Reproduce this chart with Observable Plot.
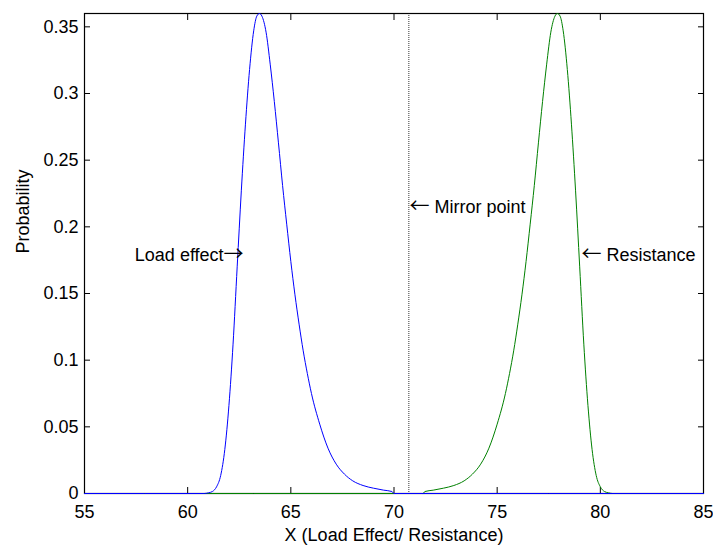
<!DOCTYPE html>
<html><head><meta charset="utf-8">
<script src="https://cdn.jsdelivr.net/npm/d3@7"></script>
<script src="https://cdn.jsdelivr.net/npm/@observablehq/plot@0.6"></script>
<style>body{margin:0;background:#fff;} #chart svg{display:block}</style>
</head><body><div id="chart"></div>
<script>
// Load effect (blue) curve
const loadX = [55, 60.8, 61.0, 61.2, 61.4, 61.6, 61.8, 62.0, 62.2, 62.4, 62.6, 62.8, 63.0, 63.2, 63.35, 63.48, 63.6, 63.8, 64.0, 64.2, 64.4, 64.6, 64.8, 65.0, 65.2, 65.4, 65.6, 65.8, 66.0, 66.4, 66.8, 67.2, 67.6, 68.0, 68.5, 69.0, 69.5, 69.9, 70.0, 85];
const loadY = [0, 0, 0.0005, 0.0015, 0.005, 0.0135, 0.033, 0.066, 0.112, 0.17, 0.227, 0.277, 0.318, 0.347, 0.358, 0.36, 0.358, 0.346, 0.322, 0.294, 0.263, 0.231, 0.202, 0.174, 0.149, 0.127, 0.107, 0.09, 0.075, 0.052, 0.034, 0.022, 0.0145, 0.0095, 0.006, 0.004, 0.0025, 0.0015, 0, 0];
// Resistance (green) curve
const resX = [55, 71.4, 71.5, 71.9, 72.4, 72.9, 73.4, 73.8, 74.2, 74.6, 75.0, 75.4, 75.6, 75.8, 76.0, 76.2, 76.4, 76.6, 76.8, 77.0, 77.2, 77.4, 77.6, 77.8, 77.92, 78.05, 78.2, 78.4, 78.6, 78.8, 79.0, 79.2, 79.4, 79.6, 79.8, 80.0, 80.2, 80.4, 80.6, 85];
const resY = [0, 0, 0.0015, 0.0025, 0.004, 0.006, 0.0095, 0.0145, 0.022, 0.034, 0.052, 0.075, 0.09, 0.107, 0.127, 0.149, 0.174, 0.202, 0.231, 0.263, 0.294, 0.322, 0.346, 0.358, 0.36, 0.358, 0.347, 0.318, 0.277, 0.227, 0.17, 0.112, 0.066, 0.033, 0.0135, 0.005, 0.0015, 0.0005, 0, 0];
const mirrorX = [70.72];
const xTicks = [55, 60, 65, 70, 75, 80, 85];
const yTicks = [0, 0.05, 0.1, 0.15, 0.2, 0.25, 0.3, 0.35];
const annText = ["Load effect", "Mirror point", "Resistance"];
const annArrow = ["\u2192", "\u2190", "\u2190"];
const annX = [62.71, 70.75, 79.09];
const annY = [0.179, 0.215, 0.179];
const annSide = ["end", "start", "start"];

const load = loadX.map((x, i) => ({x, y: loadY[i]}));
const res = resX.map((x, i) => ({x, y: resY[i]}));
const ann = annText.map((t, i) => ({t, a: annArrow[i], x: annX[i], y: annY[i], side: annSide[i]}));
const isEnd = d => d.side === "end";
const isStart = d => d.side === "start";

const chart = Plot.plot({
  width: 713, height: 545,
  marginLeft: 84, marginRight: 10, marginTop: 13, marginBottom: 52,
  style: {fontFamily: "'Liberation Sans', Arial, sans-serif", fontSize: "18px", background: "#fff", color: "#000"},
  x: {domain: [55, 85]},
  y: {domain: [0, 0.36]},
  marks: [
    Plot.frame({stroke: "#000", strokeWidth: 1.2}),
    Plot.axisX(xTicks, {anchor: "bottom", tickSize: -6, text: null, label: null}),
    Plot.axisX(xTicks, {anchor: "top", tickSize: -6, text: null, label: null}),
    Plot.axisY(yTicks, {anchor: "left", tickSize: -6, text: null, label: null}),
    Plot.axisY(yTicks, {anchor: "right", tickSize: -6, text: null, label: null}),
    Plot.axisX(xTicks, {anchor: "bottom", tickSize: 0, tickPadding: 12, label: null}),
    Plot.axisY(yTicks, {anchor: "left", tickSize: 0, tickPadding: 6, label: null, tickFormat: d3.format("~g")}),
    Plot.ruleX(mirrorX, {stroke: "#000", strokeWidth: 0.8, strokeDasharray: "1,1"}),
    Plot.line(res, {x: "x", y: "y", stroke: "#008000", strokeWidth: 1, curve: "monotone-x"}),
    Plot.line(load, {x: "x", y: "y", stroke: "#0000ff", strokeWidth: 1, curve: "monotone-x"}),
    Plot.text(["Probability"], {frameAnchor: "left", rotate: -90, dx: -61}),
    Plot.text(["X (Load Effect/ Resistance)"], {frameAnchor: "bottom", dy: 47}),
    // annotation labels
    Plot.text(ann, {filter: isEnd, x: "x", y: "y", text: "t", textAnchor: "end", dx: -20}),
    Plot.text(ann, {filter: isStart, x: "x", y: "y", text: "t", textAnchor: "start", dx: 25}),
    // annotation arrows
    Plot.text(ann, {filter: isEnd, x: "x", y: "y", text: "a", textAnchor: "end", fontFamily: "'Noto Sans CJK SC'", fontSize: 20}),
    Plot.text(ann, {filter: isStart, x: "x", y: "y", text: "a", textAnchor: "start", fontFamily: "'Noto Sans CJK SC'", fontSize: 20})
  ]
});
document.getElementById("chart").append(chart);
</script>
</body></html>
